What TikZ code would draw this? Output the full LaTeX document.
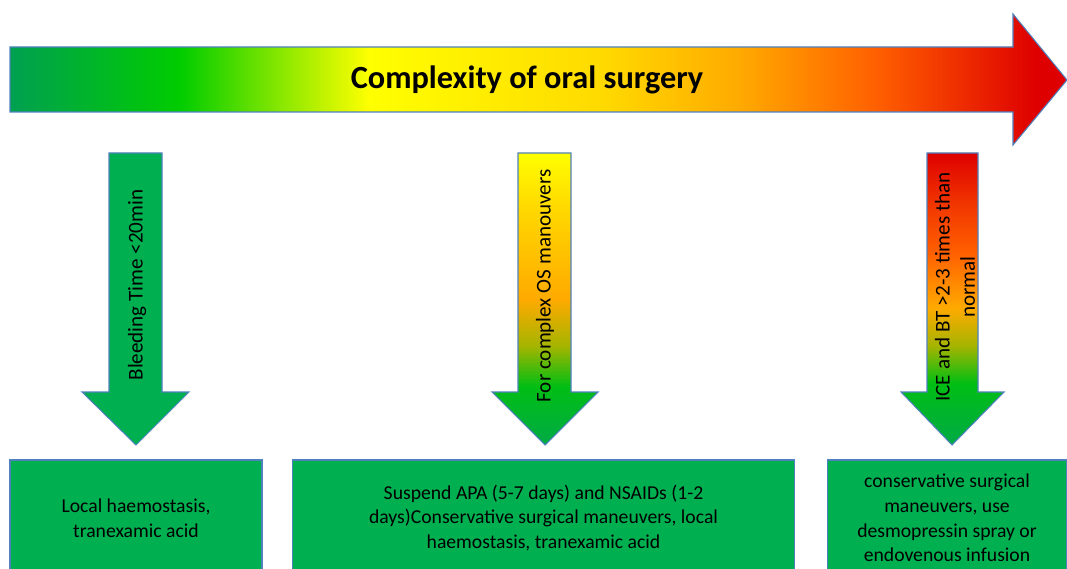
\documentclass[tikz,border=0pt]{standalone}
\usepackage{fontspec}
\setmainfont{Carlito}

\definecolor{edgeblue}{RGB}{79,129,189}
\definecolor{boxgreen}{RGB}{0,176,80}
\definecolor{dkgreen}{RGB}{0,160,80}
\definecolor{ltgreen}{RGB}{0,204,0}
\definecolor{midgreen}{RGB}{0,190,20}
\definecolor{tipgreen}{RGB}{0,170,70}
\definecolor{olive}{RGB}{165,180,0}
\definecolor{yel}{RGB}{255,255,0}
\definecolor{goldyel}{RGB}{255,218,0}
\definecolor{orng}{RGB}{255,170,0}
\definecolor{redorng}{RGB}{255,95,0}
\definecolor{orngred}{RGB}{242,55,0}
\definecolor{dkred}{RGB}{222,0,0}

% colours run between 25bp and 75bp (the part that covers the path)
\pgfdeclarehorizontalshading{complexity}{100bp}{color(0bp)=(dkgreen); color(25bp)=(dkgreen);
  color(33bp)=(ltgreen); color(42bp)=(yel); color(53bp)=(goldyel); color(59.5bp)=(orng);
  color(66bp)=(redorng); color(73.5bp)=(dkred); color(100bp)=(dkred)}
\pgfdeclareverticalshading{complexOS}{100bp}{color(0bp)=(tipgreen); color(25bp)=(tipgreen);
  color(35bp)=(midgreen); color(42bp)=(olive); color(50bp)=(orng); color(66bp)=(goldyel);
  color(75bp)=(yel); color(100bp)=(yel)}
\pgfdeclareverticalshading{iceBT}{100bp}{color(0bp)=(tipgreen); color(25bp)=(tipgreen);
  color(35.5bp)=(midgreen); color(42bp)=(olive); color(48.5bp)=(orng); color(58bp)=(redorng);
  color(66bp)=(orngred); color(75bp)=(dkred); color(100bp)=(dkred)}

\begin{document}
\begin{tikzpicture}[
  x=0.02cm,
  y=0.02cm, % one unit = one pixel of the layout
  every node/.style={font=\fontsize{11.2}{14}\selectfont},
  outline/.style={draw=edgeblue, line width=0.6pt},
  box/.style={outline, fill=boxgreen, align=center, minimum height=2.32cm},
  uplabel/.style={rotate=90, font=\fontsize{12}{14.5}\selectfont}
]
\useasboundingbox (0,0) rectangle (1067,568);
\clip (0,0) rectangle (1067,568);

% Complexity arrow
\shadedraw[outline, shading=complexity]
  (10,456) -- (1013,456) -- (1013,423) -- (1067,488) -- (1013,554) -- (1013,521) -- (10,521) -- cycle;
\node[font=\fontsize{18.4}{22}\selectfont\bfseries] (title) at (527,488) {Complexity of oral surgery};

% --- Down arrows ---
\filldraw[outline, fill=boxgreen]
  (109,415) -- (109,176) -- (82,176) -- (136,123) -- (189,176) -- (162,176) -- (162,415) -- cycle;
\node[uplabel] (bleeding) at (137,283) {Bleeding Time <20min};

\shadedraw[outline, shading=complexOS]
  (518,415) -- (518,176) -- (492,176) -- (545,123) -- (598,176) -- (571,176) -- (571,415) -- cycle;
\node[uplabel] (complexos) at (545,282) {For complex OS manouvers};

\shadedraw[outline, shading=iceBT]
  (927,415) -- (927,176) -- (901,176) -- (952,123) -- (1004,176) -- (978,176) -- (978,415) -- cycle;
\node[uplabel, align=center] (icebt) at (955,281) {ICE and BT >2-3 times than\\normal};

% --- Treatment boxes ---
\node[box, minimum width=5.04cm] (localbox) at (136,50)
  {Local haemostasis,\\tranexamic acid};
\node[box, minimum width=10.06cm] (suspendbox) at (543.5,50)
  {Suspend APA (5-7 days) and NSAIDs (1-2\\days)Conservative surgical maneuvers, local\\haemostasis, tranexamic acid};
\node[box, minimum width=4.8cm] (consbox) at (947,50)
  {conservative surgical\\maneuvers, use\\desmopressin spray or\\endovenous infusion};

\end{tikzpicture}
\end{document}
